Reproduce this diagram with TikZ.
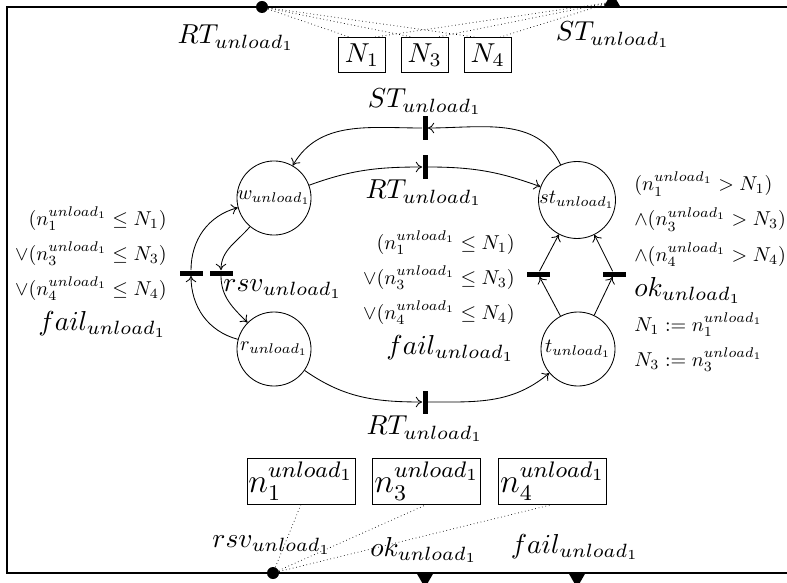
\documentclass[tikz,border=0pt]{standalone}
\usepackage{fix-cm}
\usepackage{amsmath,graphicx}
\usetikzlibrary{arrows.meta,positioning,shapes.geometric}
\newcommand\lab[1]{\scalebox{1.95}{$#1$}}
\newcommand\cnd[1]{\scalebox{1.43}{$#1$}}
\newcommand\vbx[1]{\scalebox{2.0}{\large$#1$}}
\tikzset{pl/.style={draw,circle,line width=0.6pt,inner sep=0pt,minimum size=1.85cm},
  vtr/.style={fill=black,minimum width=0.125cm,minimum height=0.575cm,inner sep=0pt},
  htr/.style={fill=black,minimum width=0.575cm,minimum height=0.125cm,inner sep=0pt},
  flow/.style={-{To[length=1.6mm,width=2.6mm]},line width=0.6pt},
  link/.style={dotted,line width=0.5pt},
  inport/.style={circle,fill=black,minimum size=0.3cm,inner sep=0pt},
  outport/.style={regular polygon,regular polygon sides=3,fill=black,minimum size=0.49cm,inner sep=0pt},
  varbox/.style={draw,inner sep=1pt,line width=0.6pt},
  lbl/.style={inner sep=0pt},
  cond/.style={font=\fontsize{10}{25}\selectfont,inner sep=0pt}}

\begin{document}
\begin{tikzpicture}[x=0.025cm,y=0.025cm]
\useasboundingbox (0,0) rectangle (787,-583);
\clip (0,0) rectangle (787,-583);
\draw[line width=1pt] (7,-7) rectangle (810,-573);
% places
\node[pl] (w) at (274,-198) {\cnd{w_{unload_1}}};
\node[pl] (st) at (577,-200) {\cnd{st_{unload_1}}};
\node[pl] (r) at (274,-349) {\cnd{r_{unload_1}}};
\node[pl] (t) at (578,-349) {\cnd{t_{unload_1}}};
% transitions
\node[vtr] (stT) at (425,-128) {};
\node[vtr] (rtT) at (425,-167) {};
\node[vtr] (rtB) at (425,-402) {};
\node[htr] (failL) at (191,-273) {};
\node[htr] (rsv) at (221,-273) {};
\node[htr] (failR) at (538,-274) {};
\node[htr] (ok) at (614,-274) {};
% arcs
\draw[flow] (w) to[out=20,in=180] (rtT);
\draw[flow] (rtT) to[out=0,in=160] (st);
\draw[flow] (st) to[out=115,in=0] (stT);
\draw[flow] (stT) to[out=180,in=60] (w);
\draw[flow] (w) to[out=230,in=90] (rsv);
\draw[flow] (rsv) to[out=-90,in=135] (r);
\draw[flow] (r) to[out=165,in=-90] (failL);
\draw[flow] (failL) to[out=90,in=195] (w);
\draw[flow] (t) -- (failR);
\draw[flow] (failR) -- (st);
\draw[flow] (t) -- (ok);
\draw[flow] (ok) -- (st);
\draw[flow] (r) to[out=-35,in=180] (rtB);
\draw[flow] (rtB) to[out=0,in=220] (t);
% labels
\node[lbl] (stTlbl) at (425,-102) {\lab{ST_{unload_1}}};
\node[lbl] (rtTlbl) at (424,-193) {\lab{RT_{unload_1}}};
\node[lbl] (rtBlbl) at (425,-429) {\lab{RT_{unload_1}}};
\node[lbl] (rsvlbl) at (283,-289) {\lab{rsv_{unload_1}}};
\node[cond,align=right,anchor=east] (failLlbl) at (167,-272) {\cnd{(n_1^{unload_1} \leq N_1)}\\ \cnd{\vee(n_3^{unload_1} \leq N_3)}\\ \cnd{\vee(n_4^{unload_1} \leq N_4)}\\ \lab{fail_{unload_1}}};
\node[cond,align=right,anchor=east] (failRlbl) at (515,-296) {\cnd{(n_1^{unload_1} \leq N_1)}\\ \cnd{\vee(n_3^{unload_1} \leq N_3)}\\ \cnd{\vee(n_4^{unload_1} \leq N_4)}\\ \lab{fail_{unload_1}}};
\node[cond,align=left,anchor=west] (oklbl) at (634,-272) {\cnd{(n_1^{unload_1} > N_1)}\\ \cnd{\wedge(n_3^{unload_1} > N_3)}\\ \cnd{\wedge(n_4^{unload_1} > N_4)}\\ \lab{ok_{unload_1}}\\ \cnd{N_1 := n_1^{unload_1}}\\ \cnd{N_3 := n_3^{unload_1}}};
% ports
\node[inport] (inRT) at (262,-7) {};
\node[outport] (outST) at (612,-2.1) {};
\node[inport] (inRSV) at (273,-573) {};
\node[outport,shape border rotate=180] (outOK) at (425,-577.9) {};
\node[outport,shape border rotate=180] (outFAIL) at (577,-577.9) {};
\node[lbl] (inRTlbl) at (236,-38) {\lab{RT_{unload_1}}};
\node[lbl] (outSTlbl) at (613,-35) {\lab{ST_{unload_1}}};
\node[lbl] (inRSVlbl) at (272,-545) {\lab{rsv_{unload_1}}};
\node[lbl] (outOKlbl) at (424,-550) {\lab{ok_{unload_1}}};
\node[lbl] (outFAILlbl) at (575,-547) {\lab{fail_{unload_1}}};
% variables
\node[varbox,minimum width=1.175cm,minimum height=0.875cm] (N1) at (362,-55) {\lab{N_1}};
\node[varbox,minimum width=1.175cm,minimum height=0.875cm,right=0.375cm of N1] (N3) {\lab{N_3}};
\node[varbox,minimum width=1.175cm,minimum height=0.875cm,right=0.375cm of N3] (N4) {\lab{N_4}};
\node[varbox,minimum width=2.7cm,minimum height=1.15cm] (n1) at (301,-481) {\vbx{n_1^{unload_1}}};
\node[varbox,minimum width=2.7cm,minimum height=1.15cm,right=0.425cm of n1] (n3) {\vbx{n_3^{unload_1}}};
\node[varbox,minimum width=2.7cm,minimum height=1.15cm,right=0.425cm of n3] (n4) {\vbx{n_4^{unload_1}}};
\draw[link] (inRT) -- (N1.125);
\draw[link] (inRT) -- (N3.125);
\draw[link] (inRT) -- (N4.125);
\draw[link] (outST) -- (N1.55);
\draw[link] (outST) -- (N3.55);
\draw[link] (outST) -- (N4.55);
\draw[link] (inRSV) -- (n1.south);
\draw[link] (inRSV) -- (n3.south);
\draw[link] (inRSV) -- (n4.south);
\end{tikzpicture}
\end{document}
